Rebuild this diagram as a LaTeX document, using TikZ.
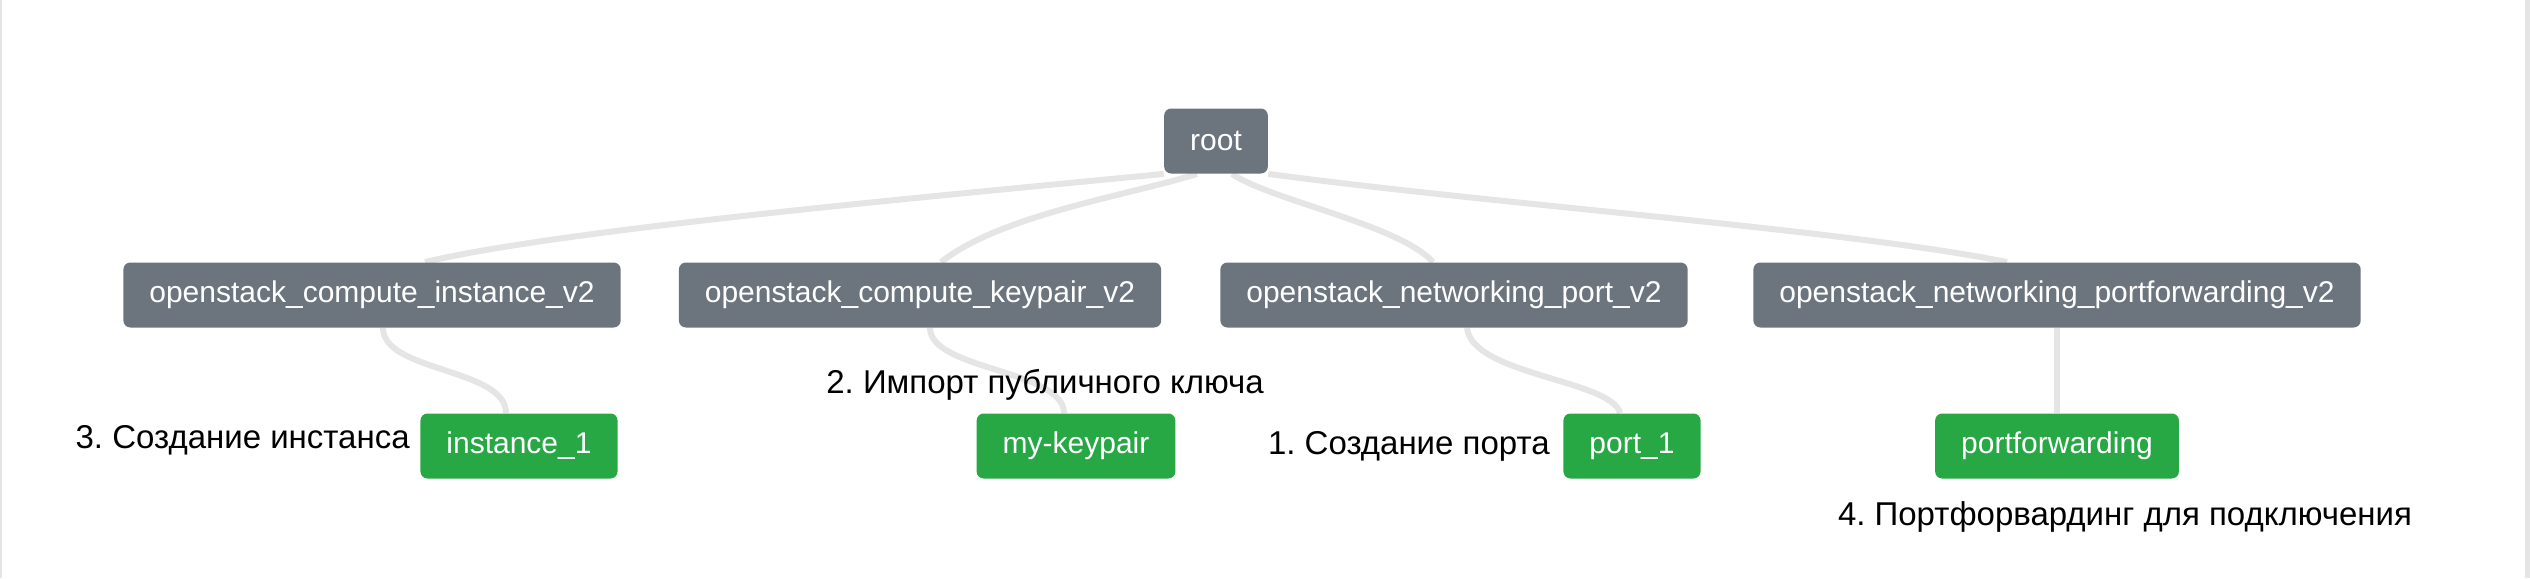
\documentclass[tikz,border=0pt]{standalone}
\usepackage{fontspec}
\setmainfont{Liberation Sans}
\usepackage{tikz}
\usetikzlibrary{shapes,backgrounds,positioning}
\frenchspacing

\definecolor{typegray}{HTML}{6C757D}
\definecolor{itemgreen}{HTML}{28A745}
\definecolor{linkgray}{HTML}{E5E5E5}

\begin{document}
\begin{tikzpicture}[x=0.5pt,y=-0.5pt
        , font=\fontsize{15pt}{18pt}\selectfont
        , restype/.style={rectangle, rounded corners=3.5pt, fill=typegray, text=white
            , minimum height=32.5pt, inner xsep=13pt}
        , resitem/.style={restype, fill=itemgreen}
        , note/.style={inner sep=0pt, text=black, font=\fontsize{16.5pt}{20pt}\selectfont}
        , link/.style={draw=linkgray, line width=3pt}
        ]
    \useasboundingbox (0,0) rectangle (2530,578);
    \fill[linkgray] (0,0) rectangle (2,578);
    \fill[linkgray] (2525,0) rectangle (2530,578);

    % resource types
    \node[restype] (root) at (1216,141) {root};
    \node[restype] (inst) at (372,295) {openstack\_compute\_instance\_v2};
    \node[restype] (key) at (920,295) {openstack\_compute\_keypair\_v2};
    \node[restype] (port) at (1454,295) {openstack\_networking\_port\_v2};
    \node[restype] (pf) at (2057,295) {openstack\_networking\_portforwarding\_v2};

    % resources
    \node[resitem] (inst1) at (519,446) {instance\_1};
    \node[resitem] (mykey) at (1076,446) {my-keypair};
    \node[resitem] (port1) at (1632,446) {port\_1};
    \node[resitem] (pfwd) at (2057,446) {portforwarding};

    % steps
    \node[note, left=5pt of inst1, yshift=3pt] (note3) {3. Создание инстанса};
    \node[note, above=6pt of mykey, xshift=-15.5pt] (note2) {2. Импорт публичного ключа};
    \node[note, left=6.5pt of port1] (note1) {1. Создание порта};
    \node[note, below=11pt of pfwd, xshift=34pt] (note4) {4. Портфорвардинг для подключения};

    \begin{scope}[on background layer]
        \draw[link] (root.south west) .. controls (916,198) and (560,230) .. ([xshift=26.5pt]inst.north);
        \draw[link] ([xshift=-9.5pt]root.south) .. controls (1130,195) and (1000,215) .. ([xshift=10.5pt]key.north);
        \draw[link] ([xshift=8pt]root.south) .. controls (1270,200) and (1400,225) .. ([xshift=-10.5pt]port.north);
        \draw[link] (root.south east) .. controls (1500,205) and (1850,230) .. ([xshift=-25pt]pf.north);

        \draw[link] ([xshift=5.5pt]inst.south) .. controls (383,372) and (506,368) .. ([xshift=-6.5pt]inst1.north);
        \draw[link] ([xshift=5pt]key.south) .. controls (930,370) and (1064,370) .. ([xshift=-6pt]mykey.north);
        \draw[link] ([xshift=6.5pt]port.south) .. controls (1472,375) and (1612,380) .. ([xshift=-6pt]port1.north);
        \draw[link] (pf) -- (pfwd);
    \end{scope}
\end{tikzpicture}
\end{document}
